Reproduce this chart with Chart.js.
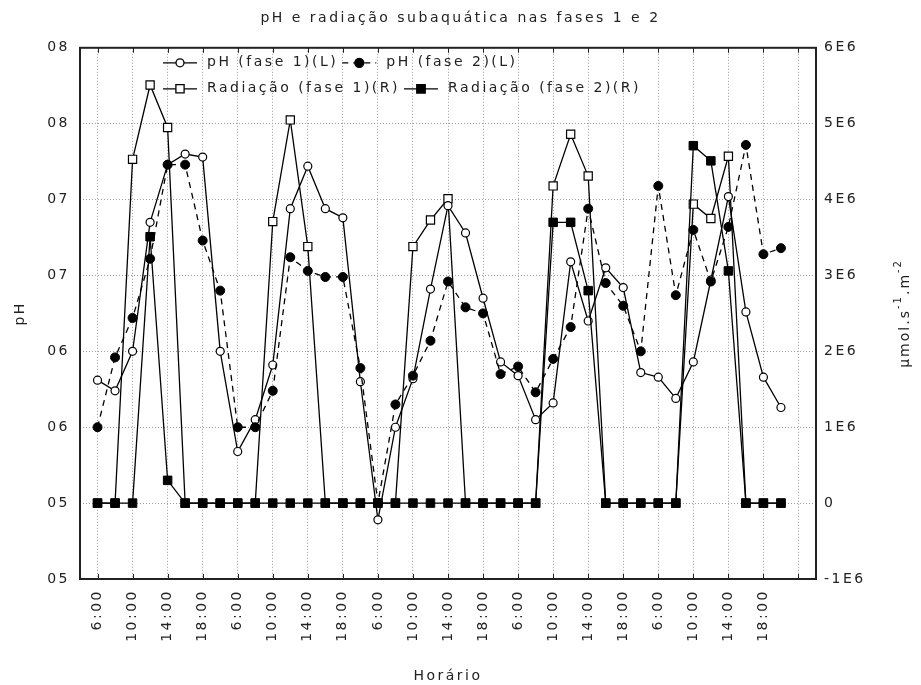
<!DOCTYPE html>
<html>
<head>
<meta charset="utf-8">
<title>pH e radiação subaquática</title>
<script src="https://cdn.jsdelivr.net/npm/chart.js"></script>
<style>
  html, body { margin: 0; padding: 0; background: #fff; }
  .chart-box { width: 921px; height: 685px; }
</style>
</head>
<body>
<div class="chart-box"><canvas id="myChart"></canvas></div>
<script>
// horários de coleta (um ponto a cada 2 h, só os pares têm rótulo)
const horarios = [
  "6:00", "8:00", "10:00", "12:00", "14:00", "16:00", "18:00", "20:00",
  "6:00", "8:00", "10:00", "12:00", "14:00", "16:00", "18:00", "20:00",
  "6:00", "8:00", "10:00", "12:00", "14:00", "16:00", "18:00", "20:00",
  "6:00", "8:00", "10:00", "12:00", "14:00", "16:00", "18:00", "20:00",
  "6:00", "8:00", "10:00", "12:00", "14:00", "16:00", "18:00", "20:00",
]

const phFase1 = [
  5.81, 5.74, 6.00, 6.85, 7.23, 7.30, 7.28, 6.00, 5.34, 5.55,
  5.91, 6.94, 7.22, 6.94, 6.88, 5.80, 4.89, 5.50, 5.82, 6.41,
  6.96, 6.78, 6.35, 5.93, 5.84, 5.55, 5.66, 6.59, 6.20, 6.55,
  6.42, 5.86, 5.83, 5.69, 5.93, 6.47, 7.02, 6.26, 5.83, 5.63,
]
const phFase2 = [
  5.50, 5.96, 6.22, 6.61, 7.23, 7.23, 6.73, 6.40, 5.50, 5.50,
  5.74, 6.62, 6.53, 6.49, 6.49, 5.89, 5.00, 5.65, 5.84, 6.07,
  6.46, 6.29, 6.25, 5.85, 5.90, 5.73, 5.95, 6.16, 6.94, 6.45,
  6.30, 6.00, 7.09, 6.37, 6.80, 6.46, 6.82, 7.36, 6.64, 6.68,
]
const radFase1 = [
  0, 0, 4.53e6, 5.51e6, 4.95e6, 0, 0, 0, 0, 0,
  3.71e6, 5.05e6, 3.38e6, 0, 0, 0, 0, 0, 3.38e6, 3.73e6,
  4.01e6, 0, 0, 0, 0, 0, 4.18e6, 4.86e6, 4.31e6, 0,
  0, 0, 0, 0, 3.94e6, 3.75e6, 4.57e6, 0, 0, 0,
]
const radFase2 = [
  0, 0, 0, 3.51e6, 0.30e6, 0, 0, 0, 0, 0,
  0, 0, 0, 0, 0, 0, 0, 0, 0, 0,
  0, 0, 0, 0, 0, 0, 3.70e6, 3.70e6, 2.80e6, 0,
  0, 0, 0, 0, 4.71e6, 4.51e6, 3.06e6, 0, 0, 0,
]

const phTickValues = [4.5, 5, 5.5, 6, 6.5, 7, 7.5, 8]
const phTickLabels = ["05", "05", "06", "06", "07", "07", "08", "08"]
const radTickValues = [-1e6, 0, 1e6, 2e6, 3e6, 4e6, 5e6, 6e6]
const radTickLabels = ["-1E6", "0", "1E6", "2E6", "3E6", "4E6", "5E6", "6E6"]
const xTickValues = [0, 2, 4, 6, 8, 10, 12, 14, 16, 18, 20, 22, 24, 26, 28, 30, 32, 34, 36, 38, 40]

const FAMILY = "'DejaVu Sans', sans-serif"
const SPACING = "2.5px"
const INK = "#222"

Chart.defaults.font.family = FAMILY
Chart.defaults.font.size = 14
Chart.defaults.color = INK

const toPoints = (vals) => vals.map((v, i) => ({ x: i, y: v }))

// letras espaçadas como no gráfico original
const letterSpacing = {
  id: "letterSpacing",
  beforeUpdate(chart) { chart.ctx.letterSpacing = SPACING },
  beforeDraw(chart) { chart.ctx.letterSpacing = SPACING },
}

// moldura e marcas internas do eixo x
const frame = {
  id: "frame",
  afterDatasetsDraw(chart) {
    const { ctx, chartArea: a, scales } = chart
    ctx.save()
    ctx.strokeStyle = INK
    ctx.lineWidth = 1
    ctx.beginPath()
    xTickValues.forEach((v) => {
      const px = Math.round(scales.x.getPixelForValue(v)) + 0.5
      ctx.moveTo(px, a.top)
      ctx.lineTo(px, a.top + 5)
      ctx.moveTo(px, a.bottom)
      ctx.lineTo(px, a.bottom - 5)
    })
    ctx.stroke()
    ctx.lineWidth = 2
    ctx.strokeRect(a.left, a.top, a.right - a.left, a.bottom - a.top)
    ctx.restore()
  },
}

// legenda dentro da área do gráfico, duas linhas
const legendInside = {
  id: "legendInside",
  afterDatasetsDraw(chart) {
    const { ctx, chartArea } = chart
    const rows = [[0, 1], [2, 3]]
    ctx.save()
    ctx.letterSpacing = SPACING
    ctx.font = "14px " + FAMILY
    ctx.textBaseline = "middle"
    rows.forEach((row, r) => {
      let x = chartArea.left + 83
      const y = chartArea.top + 15 + r * 26
      row.forEach((di) => {
        const ds = chart.data.datasets[di]
        ctx.strokeStyle = "#000"
        ctx.lineWidth = 1.3
        ctx.setLineDash(ds.borderDash || [])
        ctx.beginPath()
        ctx.moveTo(x, y)
        ctx.lineTo(x + 34, y)
        ctx.stroke()
        ctx.setLineDash([])
        ctx.fillStyle = ds.pointBackgroundColor
        Chart.helpers.drawPoint(ctx, { pointStyle: ds.pointStyle, radius: ds.pointRadius, borderWidth: 1.2 }, x + 17, y)
        ctx.fillStyle = INK
        ctx.fillText(ds.label, x + 44, y)
        x += 44 + ctx.measureText(ds.label).width + 4
      })
    })
    ctx.restore()
  },
}

// título do eixo direito com expoentes
const unitTitle = {
  id: "unitTitle",
  afterDraw(chart) {
    const { ctx, chartArea } = chart
    const parts = [["μmol.s", 14, 0], ["-1", 10, -7], [".m", 14, 0], ["-2", 10, -7]]
    ctx.save()
    ctx.letterSpacing = "2px"
    ctx.fillStyle = INK
    ctx.textBaseline = "middle"
    let total = 0
    parts.forEach(([t, size]) => {
      ctx.font = size + "px " + FAMILY
      total += ctx.measureText(t).width
    })
    ctx.translate(chart.width - 16, (chartArea.top + chartArea.bottom) / 2)
    ctx.rotate(-Math.PI / 2)
    let x = -total / 2
    parts.forEach(([t, size, dy]) => {
      ctx.font = size + "px " + FAMILY
      ctx.fillText(t, x, dy)
      x += ctx.measureText(t).width
    })
    ctx.restore()
  },
}

const ctx = document.getElementById("myChart")
new Chart(ctx, {
  type: "line",
  data: {
    datasets: [
      {
        label: "pH (fase 1)(L)",
        data: toPoints(phFase1),
        yAxisID: "y",
        borderColor: "#000",
        borderWidth: 1.3,
        pointStyle: "circle",
        pointRadius: 4,
        pointBackgroundColor: "#fff",
        pointBorderColor: "#000",
        pointBorderWidth: 1.2,
        order: 2,
      },
      {
        label: "pH (fase 2)(L)",
        data: toPoints(phFase2),
        yAxisID: "y",
        borderColor: "#000",
        borderWidth: 1.3,
        borderDash: [6, 5],
        pointStyle: "circle",
        pointRadius: 4.5,
        pointBackgroundColor: "#000",
        pointBorderColor: "#000",
        pointBorderWidth: 1,
        order: 1,
      },
      {
        label: "Radiação (fase 1)(R)",
        data: toPoints(radFase1),
        yAxisID: "y1",
        borderColor: "#000",
        borderWidth: 1.3,
        pointStyle: "rect",
        pointRadius: 5.8,
        pointBackgroundColor: "#fff",
        pointBorderColor: "#000",
        pointBorderWidth: 1.2,
        order: 3,
      },
      {
        label: "Radiação (fase 2)(R)",
        data: toPoints(radFase2),
        yAxisID: "y1",
        borderColor: "#000",
        borderWidth: 1.3,
        pointStyle: "rect",
        pointRadius: 6,
        pointBackgroundColor: "#000",
        pointBorderColor: "#000",
        pointBorderWidth: 1,
        order: 0,
      },
    ],
  },
  options: {
    responsive: true,
    maintainAspectRatio: false,
    animation: false,
    layout: { padding: 0 },
    elements: { line: { tension: 0 } },
    plugins: {
      legend: { display: false },
      tooltip: { enabled: false },
      title: {
        display: true,
        text: "pH e radiação subaquática nas fases 1 e 2",
        color: INK,
        font: { size: 14, weight: "normal" },
        padding: { top: 10, bottom: 21 },
      },
    },
    scales: {
      x: {
        type: "linear",
        min: -1,
        max: 41,
        afterBuildTicks(scale) {
          scale.ticks = xTickValues.map((v) => ({ value: v }))
        },
        afterFit(scale) { scale.height = 106 },
        ticks: {
          autoSkip: false,
          minRotation: 90,
          maxRotation: 90,
          padding: 10,
          callback: (v) => horarios[v] || "",
        },
        grid: { color: "#9c9c9c", lineWidth: 1, drawTicks: false },
        border: { display: false, dash: [1, 2] },
        title: { display: true, text: "Horário", padding: { top: 0, bottom: 0 } },
      },
      y: {
        position: "left",
        min: 4.5,
        max: 8,
        afterBuildTicks(scale) {
          scale.ticks = phTickValues.map((v) => ({ value: v }))
        },
        afterFit(scale) { scale.width = 80 },
        ticks: {
          padding: 10,
          callback: (v, i) => phTickLabels[i],
        },
        grid: { color: "#9c9c9c", lineWidth: 1, drawTicks: false },
        border: { display: false, dash: [1, 2] },
        title: { display: true, text: "pH", padding: { top: 12, bottom: 0 } },
      },
      y1: {
        position: "right",
        min: -1e6,
        max: 6e6,
        afterBuildTicks(scale) {
          scale.ticks = radTickValues.map((v) => ({ value: v }))
        },
        afterFit(scale) { scale.width = 105 },
        ticks: {
          padding: 8,
          callback: (v, i) => radTickLabels[i],
        },
        grid: { drawOnChartArea: false, drawTicks: false },
        border: { display: false },
      },
    },
  },
  plugins: [letterSpacing, frame, legendInside, unitTitle],
})
</script>
</body>
</html>
